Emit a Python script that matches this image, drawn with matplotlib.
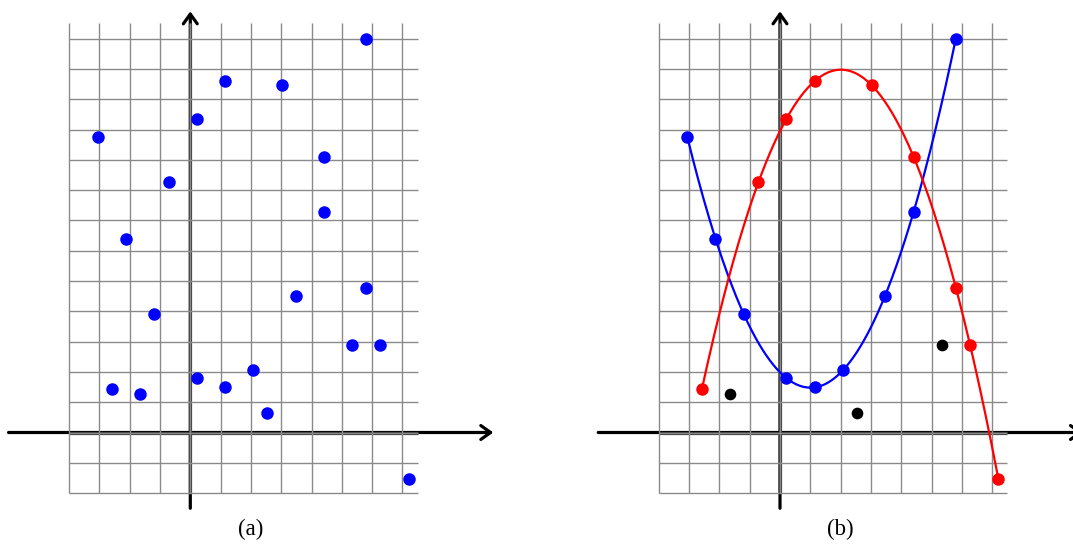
import numpy as np
import matplotlib
matplotlib.use("Agg")
import matplotlib.pyplot as plt

# Sample points (grid units)
blue_x = [-3.06, -2.13, -1.20, 0.21, 1.15, 2.08, 3.48, 4.41, 5.80]
blue_y = [9.76, 6.39, 3.91, 1.81, 1.50, 2.07, 4.52, 7.27, 13.00]
red_x = [-2.58, -0.71, 0.21, 1.15, 3.02, 4.41, 5.80, 6.27, 7.21]
red_y = [1.42, 8.26, 10.36, 11.60, 11.48, 9.10, 4.77, 2.88, -1.52]
black_x = [-1.65, 2.54, 5.34]
black_y = [1.27, 0.66, 2.88]

grid_x = list(range(-4, 8))      # vertical grid lines
grid_y = list(range(-2, 14))     # horizontal grid lines
panel_labels = ["(a)", "(b)"]

W, H = 1073, 547
UNIT = 30.3          # pixels per grid unit
ORIGIN_Y = 432.5     # pixel row of the x axis

ARROW = dict(arrowstyle="->,head_length=0.35,head_width=0.25",
             lw=2.3, color="black", shrinkA=0, shrinkB=0, mutation_scale=20)


def setup_panel(left_px, width_px, origin_x_px):
    ax = fig.add_axes([left_px / W, 0, width_px / W, 1])
    ax.set_xlim((left_px - origin_x_px) / UNIT,
                (left_px + width_px - origin_x_px) / UNIT)
    ax.set_ylim((ORIGIN_Y - H) / UNIT, ORIGIN_Y / UNIT)
    ax.axis("off")

    # coordinate axes
    ax.annotate("", xy=(10, 0), xytext=(-6, 0), arrowprops=ARROW,
                zorder=1, annotation_clip=False)
    ax.annotate("", xy=(0, 13.9), xytext=(0, -2.5), arrowprops=ARROW,
                zorder=1, annotation_clip=False)
    # the part of the axes inside the grid is drawn a little lighter
    ax.plot([-4, 7.5], [0, 0], color="#3c3c3c", lw=2.3,
            solid_capstyle="butt", zorder=1.5)
    ax.plot([0, 0], [-2, 13.5], color="#3c3c3c", lw=2.3,
            solid_capstyle="butt", zorder=1.5)

    # grid drawn over the axes
    for gx in grid_x:
        ax.plot([gx, gx], [-2, 13.5], color="#8a8a8a", lw=1.0,
                solid_capstyle="butt", zorder=2)
    for gy in grid_y:
        ax.plot([-4, 7.5], [gy, gy], color="#8a8a8a", lw=1.0,
                solid_capstyle="butt", zorder=2)
    return ax


fig = plt.figure(figsize=(W / 100, H / 100), dpi=100)

# (a) all samples
ax1 = setup_panel(0, 540, 190.3)
all_x = blue_x + red_x + black_x
all_y = blue_y + red_y + black_y
ax1.plot(all_x, all_y, "o", color="#0000ff", ms=9.0, mec="none", zorder=5)
ax1.text(2, -3.2, panel_labels[0], ha="center", va="center",
         fontsize=16.5, family="Liberation Serif")

# (b) quadratic fits of the two groups, plus the leftover points
ax2 = setup_panel(540, 533, 780)
for xs, ys, c in [(blue_x, blue_y, "#0000ff"), (red_x, red_y, "#ff0000")]:
    coef = np.polyfit(xs, ys, 2)
    xx = np.linspace(min(xs), max(xs), 300)
    ax2.plot(xx, np.polyval(coef, xx), color=c, lw=1.6, zorder=4)
    ax2.plot(xs, ys, "o", color=c, ms=9.0, mec="none", zorder=5)
ax2.plot(black_x, black_y, "o", color="black", ms=8.4, mec="none", zorder=5)
ax2.text(2, -3.2, panel_labels[1], ha="center", va="center",
         fontsize=16.5, family="Liberation Serif")

fig.savefig("out.png", dpi=100)
